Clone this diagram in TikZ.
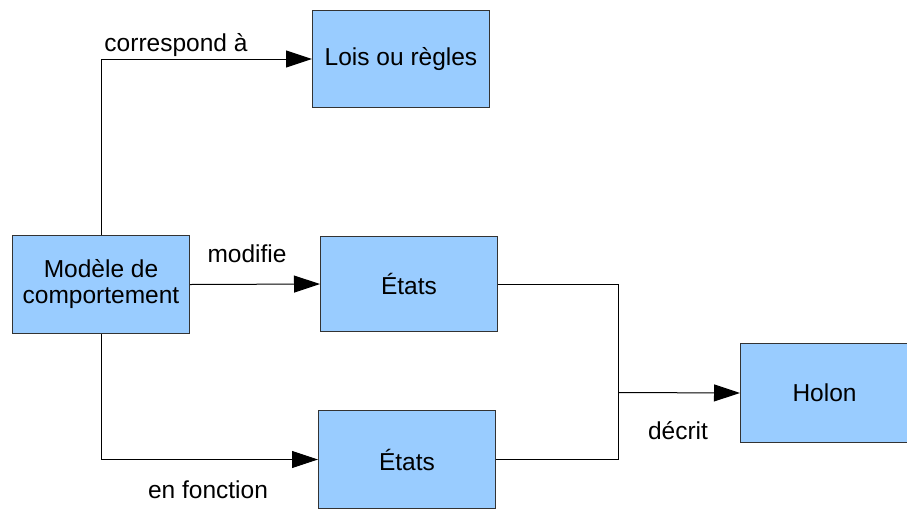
\documentclass[tikz,border=0pt]{standalone}
\usepackage{fontspec}
\setmainfont{Liberation Sans}
\usetikzlibrary{arrows.meta}
\definecolor{boxfill}{HTML}{99CCFF}
\definecolor{boxline}{HTML}{333333}
\tikzset{
  block/.style={draw=boxline, fill=boxfill, line width=1pt, anchor=north west,
    inner sep=0pt, align=center, font=\fontsize{24.5}{26}\selectfont},
  lbl/.style={inner sep=0pt, font=\fontsize{24.5}{26}\selectfont},
  link/.style={line width=1pt, draw=black},
  arr/.style={link, -{Triangle[length=26pt,width=17pt]}}
}
\begin{document}
\begin{tikzpicture}[x=1pt,y=-1pt]
  \useasboundingbox (0,0) rectangle (907,509);
  % blocks
  \node[block, minimum width=177pt, minimum height=97pt] (lois) at (312,10) {Lois ou règles};
  \node[block, minimum width=177pt, minimum height=98pt] (m) at (12,235) {Modèle de\\comportement};
  \node[block, minimum width=177pt, minimum height=95pt] (et1) at (320,236) {États};
  \node[block, minimum width=177pt, minimum height=98pt] (et2) at (318,410) {États};
  \node[block, minimum width=168pt, minimum height=99pt] (holon) at (740,343) {Holon};
  % junction of the two state lines
  \coordinate (j) at (618,392.5);
  % connectors
  \draw[arr] (m.north) |- (lois.west);
  \draw[arr] (m.east) -- (et1.west);
  \draw[arr] (m.south) |- (et2.west);
  \draw[link] (et1.east) -| (j |- et2.east) -- (et2.east);
  \draw[arr] (j) -- (holon.west);
  % labels
  \node[lbl] (lcorr) at (176,45) {correspond à};
  \node[lbl] (lmod) at (247,254) {modifie};
  \node[lbl] (lfon) at (208,490) {en fonction};
  \node[lbl] (ldec) at (678,431) {décrit};
\end{tikzpicture}
\end{document}
